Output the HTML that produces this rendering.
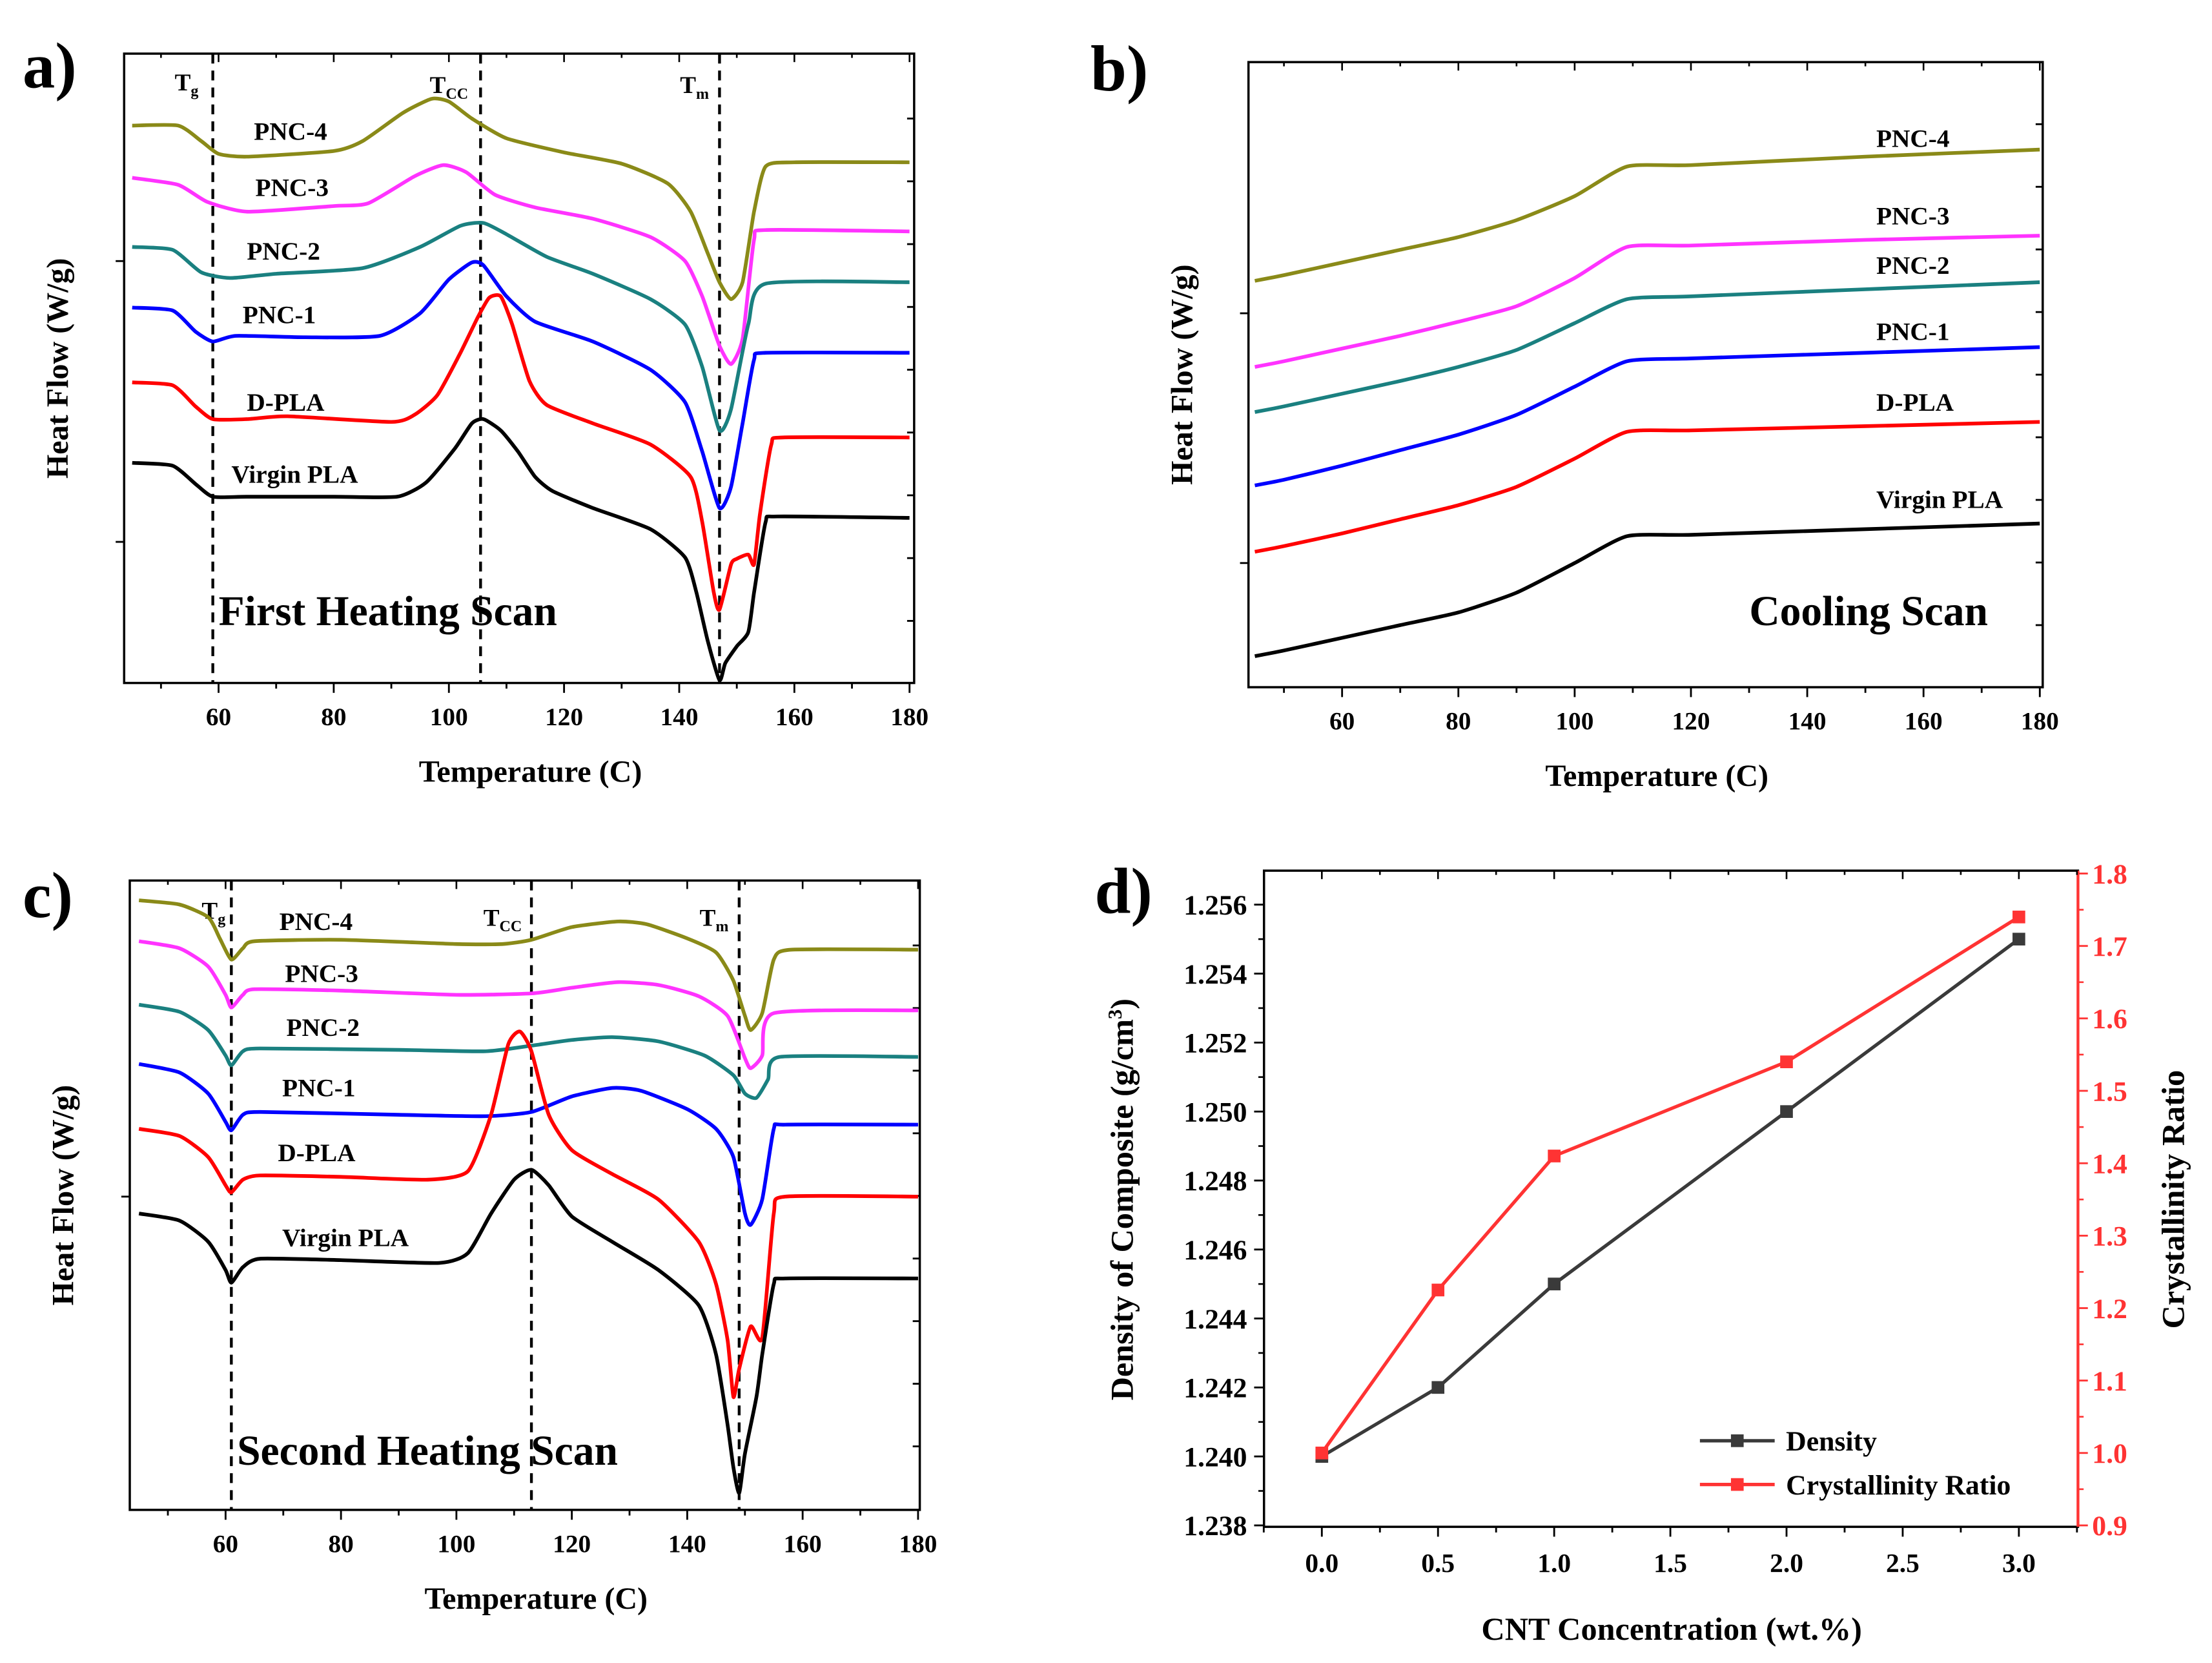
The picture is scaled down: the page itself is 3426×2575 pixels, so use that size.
<!DOCTYPE html>
<html><head><meta charset="utf-8"><style>
html,body{margin:0;padding:0;background:#fff}
svg{display:block}
text{font-family:"Liberation Serif",serif;font-weight:bold;fill:#000}
</style></head><body>
<svg id="fig" xmlns="http://www.w3.org/2000/svg" width="3426" height="2575" viewBox="0 0 1568 1178.5">
<rect width="1568" height="1178.5" fill="#fff"/>
</svg>
<script>
// ---------- Panel a data ----------
const aPNC4T=[45,53,57,60,65,80,85,92,97,100,104,110,120,130,138,142,145,147,149,151,153,155,160,180];
const aPNC4V=[395,395,384,375,373,377,384,404,414,412,400,386,376,368,354,334,304,284,272,284,334,366,369,369];
const aPNC3T=[45,53,58,65,80,86,94,99,103,108,115,125,135,141,144,147,149,151,153,155,180];
const aPNC3V=[358,353,341,334,338,340,359,367,362,346,337,329,316,299,274,239,226,244,314,321,320];
const aPNC2T=[45,52,57,62,70,85,95,102,106,110,117,125,135,141,144,147,149,152,155,180];
const aPNC2V=[309,307,291,287,290,294,309,324,326,318,302,290,272,254,224,179,194,254,283,284];
const aPNC1T=[45,52,56,59,63,75,88,95,100,104,106,110,115,125,135,141,144,147,149,151,153,155,180];
const aPNC1V=[266,264,249,242,246,245,246,262,286,298,296,274,256,242,222,199,164,124,139,184,229,234,234];
const aDPLAT=[45,52,56,59,65,72,90,94,98,102,105,107,109,111,114,117,125,135,142,144,146,147,149,150,152,153,154,156,158,180];
const aDPLAV=[213,211,196,187,187,189,185,190,204,234,259,273,274,254,214,197,184,169,146,114,64,52,84,88,91,84,119,169,174,174];
const aVirT=[45,52,56,59,65,80,91,96,101,104,106,109,112,115,118,125,135,141,143,145,147,148,150,152,153,155,157,180];
const aVirV=[156,154,141,132,132,132,132,142,166,184,187,179,164,146,136,124,109,89,64,29,2,14,26,36,64,114,118,117];
// ---------- Panel b data ----------
const bT=[45,50,60,70,80,90,100,109,120,150,180];
const bPNC4V=[288,292,301,310,319,331,348,369,370,376,381];
const bPNC3V=[227,231,240,249,259,270,290,312,313,317,320];
const bPNC2V=[195,199,208,217,227,239,258,275,277,282,287];
const bPNC1V=[143,147,157,168,179,193,213,231,233,237,241];
const bDPLAV=[96,100,109,119,129,142,162,181,182,185,188];
const bVirV=[22,26,35,44,53,67,88,107,108,112,116];
// ---------- Panel c data ----------
const cPNC4T=[45,52,57,59,61,63,65,80,100,108,113,120,128,133,140,145,148,150,151,153,155,158,180];
const cPNC4V=[432,429,420,405,390,398,403,404,401,401,404,413,417,415,405,395,375,350,340,352,390,397,397];
const cPNC3T=[45,52,57,60,61,63,65,80,100,113,120,128,135,142,147,150,151,153,155,180];
const cPNC3V=[403,398,385,365,356,365,369,368,365,366,370,374,372,364,350,320,313,322,352,354];
const cPNC2T=[45,52,57,60,61,63,66,90,105,113,120,127,135,143,148,150,152,154,156,180];
const cPNC2V=[358,353,340,322,315,325,327,326,325,329,333,335,332,322,308,295,292,305,321,321];
const cPNC1T=[45,52,57,60,61,63,66,90,105,113,120,127,132,140,145,148,150,151,153,155,157,180];
const cPNC1V=[316,310,295,275,269,280,282,280,279,282,293,299,297,284,270,250,210,202,220,270,273,273];
const cDPLAT=[45,52,57,60,61,63,66,80,95,102,106,109,111,113,116,120,127,135,142,145,147,148,149,151,153,155,157,180];
const cDPLAV=[270,265,250,230,225,234,237,236,234,240,280,330,339,325,280,255,238,220,190,160,120,80,100,130,122,210,222,222];
const cVirT=[45,52,57,60,61,63,66,80,97,102,106,110,113,116,120,127,135,142,145,147,148,149,150,152,153,155,157,180];
const cVirV=[210,205,190,170,161,172,178,177,175,182,210,234,241,230,208,190,170,145,110,60,30,12,40,80,110,160,164,164];
// ---------- Panel d data ----------
const dConc=[0,0.5,1,2,3];
const dDensity=[1.240,1.242,1.245,1.250,1.255];
const dCryst=[1.0,1.225,1.41,1.54,1.74];
const dXTicks=["0.0","0.5","1.0","1.5","2.0","2.5","3.0"];
const dLeftTicks=["1.238","1.240","1.242","1.244","1.246","1.248","1.250","1.252","1.254","1.256"];
const dRightTicks=["0.9","1.0","1.1","1.2","1.3","1.4","1.5","1.6","1.7","1.8"];
const tempTicks=[60,80,100,120,140,160,180];

const NS="http://www.w3.org/2000/svg";
const svg=document.getElementById('fig');
function mk(tag,attrs,parent){const e=document.createElementNS(NS,tag);for(const k in attrs)e.setAttribute(k,attrs[k]);(parent||svg).appendChild(e);return e;}
function txt(s,x,y,size,parent,anchor,fill){const t=mk('text',{x:x,y:y,'font-size':size,'text-anchor':anchor||'start'},parent);if(fill)t.setAttribute('style','fill:'+fill);t.textContent=s;return t;}
function smooth(P){
  let d='M'+P[0][0].toFixed(1)+','+P[0][1].toFixed(1);
  const t=0.1;
  for(let i=0;i<P.length-1;i++){
    const p0=P[i-1]||P[i],p1=P[i],p2=P[i+1],p3=P[i+2]||P[i+1];
    const c1=[p1[0]+(p2[0]-p0[0])*t,p1[1]+(p2[1]-p0[1])*t];
    const c2=[p2[0]-(p3[0]-p1[0])*t,p2[1]-(p3[1]-p1[1])*t];
    d+=' C'+c1.map(v=>v.toFixed(1)).join(',')+' '+c2.map(v=>v.toFixed(1)).join(',')+' '+p2[0].toFixed(1)+','+p2[1].toFixed(1);
  }
  return d;
}

function dscPanel(id,box,xr,series,dashes,labels,scanText,scanPos,leftTicks,rightTicks){
  const g=mk('g',{});
  
  
  const sx=T=>box.x0+(T-xr[0])/(xr[1]-xr[0])*(box.x1-box.x0);
  const sy=v=>box.y1-v;
  const fr=mk('rect',{x:box.x0,y:box.y0,width:box.x1-box.x0,height:box.y1-box.y0,fill:'none',stroke:'#000','stroke-width':1.6},g);
  
  
  for(let T=50;T<=180;T+=10){
    const x=sx(T);const major=T%20===0;
    const tk=mk('line',{x1:x,x2:x,y1:box.y1,y2:box.y1+(major?7:4),stroke:'#000','stroke-width':1.3},g);
    
    
    mk('line',{x1:x,x2:x,y1:box.y0,y2:box.y0+(major?6:3),stroke:'#000','stroke-width':1.2},g);
  }
  tempTicks.forEach(T=>{const t=txt(String(T),sx(T),box.y1+30,18,g,'middle');
    
    });
  leftTicks.forEach(y=>mk('line',{x1:box.x0-6,x2:box.x0,y1:y,y2:y,stroke:'#000','stroke-width':1.3},g));
  rightTicks.forEach(y=>mk('line',{x1:box.x1-5,x2:box.x1,y1:y,y2:y,stroke:'#000','stroke-width':1.3},g));
  dashes.forEach(d=>{const l=mk('line',{x1:sx(d.T),x2:sx(d.T),y1:box.y0,y2:box.y1,stroke:'#000','stroke-width':2,'stroke-dasharray':'7,5'},g);
    
    
    const t=mk('text',{x:sx(d.T)+d.dx,y:d.y,'font-size':17},g);t.innerHTML=d.lab;
    
    });
  series.forEach(s=>{
    const P=s.T.map((T,i)=>[sx(T),sy(s.V[i])]);
    const p=mk('path',{d:smooth(P),fill:'none',stroke:s.c,'stroke-width':2.6,'stroke-linejoin':'round'},g);
    
    
  });
  labels.forEach(l=>{const t=txt(l[0],l[1],l[2],18,g);
    
    });
  const st=txt(scanText,scanPos[0],scanPos[1],30,g);
  
  
  const xt=txt('Temperature (C)',(box.x0+box.x1)/2+8,box.y1+70,22,g,'middle');
  
  
  const yt=mk('text',{x:0,y:0,'font-size':22,'text-anchor':'middle',transform:`translate(${box.x0-40},${(box.y0+box.y1)/2}) rotate(-90)`},g);
  yt.textContent='Heat Flow (W/g)';
  
  
}
const OL='#8a8a18',MG='#ff33ff',TL='#1a8080',BL='#0000ff',RD='#ff0000',BK='#000';
const rt=(a,b,n)=>{const r=[];for(let i=0;i<n;i++)r.push(a+(b-a)*i/(n-1));return r;};

dscPanel('panel-a',{x0:88,x1:648,y0:38,y1:484},[43.6,180.8],[
 {n:'pnc-4-curve',T:aPNC4T,V:aPNC4V,c:OL},{n:'pnc-3-curve',T:aPNC3T,V:aPNC3V,c:MG},
 {n:'pnc-2-curve',T:aPNC2T,V:aPNC2V,c:TL},{n:'pnc-1-curve',T:aPNC1T,V:aPNC1V,c:BL},
 {n:'d-pla-curve',T:aDPLAT,V:aDPLAV,c:RD},{n:'virgin-pla-curve',T:aVirT,V:aVirV,c:BK}],
 [{T:59,dx:-27,y:64,lab:'T<tspan font-size="11" dy="4">g</tspan>'},{T:105.5,dx:-36,y:66,lab:'T<tspan font-size="11" dy="4">CC</tspan>'},{T:147,dx:-28,y:66,lab:'T<tspan font-size="11" dy="4">m</tspan>'}],
 [['PNC-4',180,99],['PNC-3',181,139],['PNC-2',175,184],['PNC-1',172,229],['D-PLA',175,291],['Virgin PLA',164,342]],
 'First Heating Scan',[155,443],[185,384],rt(84,440,9));

dscPanel('panel-b',{x0:885,x1:1448,y0:44,y1:487},[43.9,180.5],[
 {n:'pnc-4-curve',T:bT,V:bPNC4V,c:OL},{n:'pnc-3-curve',T:bT,V:bPNC3V,c:MG},
 {n:'pnc-2-curve',T:bT,V:bPNC2V,c:TL},{n:'pnc-1-curve',T:bT,V:bPNC1V,c:BL},
 {n:'d-pla-curve',T:bT,V:bDPLAV,c:RD},{n:'virgin-pla-curve',T:bT,V:bVirV,c:BK}],
 [],
 [['PNC-4',1330,104],['PNC-3',1330,159],['PNC-2',1330,194],['PNC-1',1330,241],['D-PLA',1330,291],['Virgin PLA',1330,360]],
 'Cooling Scan',[1240,443],[222,399],rt(88,443,9));

dscPanel('panel-c',{x0:92,x1:652,y0:624,y1:1070},[43.4,180.3],[
 {n:'pnc-4-curve',T:cPNC4T,V:cPNC4V,c:OL},{n:'pnc-3-curve',T:cPNC3T,V:cPNC3V,c:MG},
 {n:'pnc-2-curve',T:cPNC2T,V:cPNC2V,c:TL},{n:'pnc-1-curve',T:cPNC1T,V:cPNC1V,c:BL},
 {n:'d-pla-curve',T:cDPLAT,V:cDPLAV,c:RD},{n:'virgin-pla-curve',T:cVirT,V:cVirV,c:BK}],
 [{T:61,dx:-21,y:651,lab:'T<tspan font-size="11" dy="4">g</tspan>'},{T:113,dx:-34,y:656,lab:'T<tspan font-size="11" dy="4">CC</tspan>'},{T:149,dx:-28,y:656,lab:'T<tspan font-size="11" dy="4">m</tspan>'}],
 [['PNC-4',198,659],['PNC-3',202,696],['PNC-2',203,734],['PNC-1',200,777],['D-PLA',197,823],['Virgin PLA',200,883]],
 'Second Heating Scan',[168,1038],[848],rt(670,1025,9));

// ---------- Panel d ----------
(function(){
  const g=mk('g',{});
  
  
  const x0=896,x1=1473,y0=617,y1=1082;
  const sx=c=>937+c*164.7;
  const syL=v=>1081-(v-1.238)*24440;
  const syR=v=>1081-(v-0.9)*513.3;
  const fr=mk('rect',{x:x0,y:y0,width:x1-x0,height:y1-y0,fill:'none',stroke:'#000','stroke-width':1.6},g);
  
  
  mk('line',{x1:x1,x2:x1,y1:y0,y2:y1,stroke:'#ff3333','stroke-width':2},g);
  for(let c=-0.25;c<=3.26;c+=0.25){const x=sx(c);const major=Math.abs(c*2-Math.round(c*2))<1e-6;
    mk('line',{x1:x,x2:x,y1:y1,y2:y1+(major?7:4),stroke:'#000','stroke-width':1.3},g);
    mk('line',{x1:x,x2:x,y1:y0,y2:y0+(major?6:3),stroke:'#000','stroke-width':1.2},g);}
  dXTicks.forEach(s=>{const t=txt(s,sx(parseFloat(s)),y1+32,19,g,'middle');
    
    });
  dLeftTicks.forEach((s,i)=>{const v=parseFloat(s);const y=syL(v);
    mk('line',{x1:x0-7,x2:x0,y1:y,y2:y,stroke:'#000','stroke-width':1.3},g);
    if(i<dLeftTicks.length-1)mk('line',{x1:x0-4,x2:x0,y1:syL(v+0.001),y2:syL(v+0.001),stroke:'#000','stroke-width':1.2},g);
    const t=txt(s,x0-12,y+7,20,g,'end');
    
    });
  dRightTicks.forEach((s,i)=>{const v=parseFloat(s);const y=syR(v);
    mk('line',{x1:x1,x2:x1+7,y1:y,y2:y,stroke:'#ff3333','stroke-width':1.3},g);
    if(i<dRightTicks.length-1)mk('line',{x1:x1,x2:x1+4,y1:syR(v+0.05),y2:syR(v+0.05),stroke:'#ff3333','stroke-width':1.2},g);
    const t=txt(s,x1+10,y+7,20,g,'start','#ff3333');
    
    });
  const dl=mk('polyline',{points:dConc.map((c,i)=>sx(c)+','+syL(dDensity[i])).join(' '),fill:'none',stroke:'#3a3a3a','stroke-width':2.4},g);
  
  
  const cl=mk('polyline',{points:dConc.map((c,i)=>sx(c)+','+syR(dCryst[i])).join(' '),fill:'none',stroke:'#ff3333','stroke-width':2.4},g);
  
  
  dConc.forEach((c,i)=>{
    const m=mk('rect',{x:sx(c)-4.5,y:syL(dDensity[i])-4.5,width:9,height:9,fill:'#3a3a3a'},g);
    
    
    const n=mk('rect',{x:sx(c)-4.5,y:syR(dCryst[i])-4.5,width:9,height:9,fill:'#ff3333'},g);
    
    
  });
  const lg=mk('g',{},g);
  
  
  mk('line',{x1:1205,x2:1258,y1:1021,y2:1021,stroke:'#3a3a3a','stroke-width':2.4},lg);
  mk('rect',{x:1227,y:1016.5,width:9,height:9,fill:'#3a3a3a'},lg);
  const l1=txt('Density',1266,1028,20,lg);
  
  
  mk('line',{x1:1205,x2:1258,y1:1052,y2:1052,stroke:'#ff3333','stroke-width':2.4},lg);
  mk('rect',{x:1227,y:1047.5,width:9,height:9,fill:'#ff3333'},lg);
  const l2=txt('Crystallinity Ratio',1266,1059,20,lg);
  
  
  const xt=txt('CNT Concentration (wt.%)',1185,1162,23,g,'middle');
  
  
  const yl=mk('text',{x:0,y:0,'font-size':23,'text-anchor':'middle',transform:'translate(803,850) rotate(-90)'},g);
  yl.innerHTML='Density of Composite (g/cm<tspan font-size="14" dy="-8">3</tspan><tspan dy="8">)</tspan>';
  
  
  const yr=mk('text',{x:0,y:0,'font-size':23,'text-anchor':'middle',transform:'translate(1548,850) rotate(-90)'},g);
  yr.textContent='Crystallinity Ratio';
  
  
})();

[['a)',16,62],['b)',773,64],['c)',16,650],['d)',776,647]].forEach(p=>{
  const t=txt(p[0],p[1],p[2],46);
  
  
});
</script>
</body></html>
